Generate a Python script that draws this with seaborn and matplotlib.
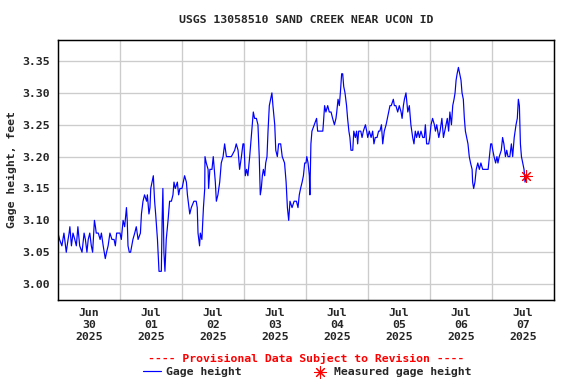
import numpy as np
import pandas as pd
import matplotlib
matplotlib.use("Agg")
import matplotlib.pyplot as plt
import seaborn as sns

# ---- data (hours after 2025-06-30 00:00, gage height in feet) ----
hours = [
    0.0, 0.6, 1.5, 2.3, 3.2, 3.9, 4.3, 4.6, 5.2, 5.8, 6.5, 7.1, 7.7, 8.4, 9.3, 10.1, 10.6, 11.2, 11.7,
    12.3, 12.9, 13.4, 14.1, 14.5, 14.8, 15.6, 16.3, 16.8, 17.5, 18.3, 18.8, 19.4, 20.1, 20.9, 21.7,
    22.2, 22.7, 23.5,
    24.0, 24.5, 25.2, 25.8, 26.5, 26.8, 27.1, 27.6, 28.1, 29.0, 29.7, 30.3, 31.0, 31.9, 32.3, 32.9,
    33.5, 34.3, 34.6, 35.2, 35.6, 35.9, 36.4, 36.9, 37.4, 37.8, 38.5, 39.1, 40.0, 40.3, 40.6, 41.0,
    41.4, 41.9, 42.6, 43.2, 43.9, 44.5, 44.9, 45.4, 46.2, 46.7, 47.2, 48.0,
    48.5, 49.0, 49.7, 50.1, 51.0, 51.6, 52.6, 53.5, 53.9, 54.2, 54.8, 55.1, 55.7, 56.3, 56.8, 56.9,
    57.4, 58.1, 58.3, 58.8, 59.6, 60.1, 60.9, 61.3, 61.9, 62.6, 63.2, 63.9, 64.5, 65.2, 66.5, 67.1,
    68.4, 69.0, 69.7, 70.3, 71.0, 71.6,
    72.0, 72.5, 73.0, 73.5, 74.2, 74.8, 75.2, 75.6, 76.1, 76.8, 77.4, 77.9, 78.3, 78.7, 79.1, 79.5,
    80.0, 80.4, 80.9, 81.3, 81.8, 82.3, 82.8, 83.2, 83.9, 84.3, 84.9, 85.4, 86.2, 86.8, 87.7, 88.3,
    88.8, 89.3, 89.8, 90.6, 91.4, 92.3, 92.9, 93.4, 93.9, 94.5, 95.0, 95.5,
    96.0, 96.3, 96.8, 97.3, 97.5, 97.9, 98.3, 99.2, 100.1, 100.5, 101.4, 102.5, 102.7, 103.2, 103.7,
    104.4, 105.0, 105.7, 106.3, 107.0, 107.6, 107.9, 108.4, 108.9, 109.3, 109.8, 110.2, 110.6, 111.1,
    111.7, 112.1, 112.6, 113.0, 113.4, 114.1, 114.5, 115.1, 115.6, 116.0, 116.4, 117.2, 117.7, 118.2,
    119.0, 119.5,
    119.9, 120.5, 121.2, 121.8, 122.3, 122.8, 123.5, 124.1, 124.6, 125.2, 125.7, 126.3, 127.0, 127.5,
    128.0, 128.5, 129.0, 129.8, 130.2, 130.8, 131.5, 132.1, 132.8, 133.2, 133.7, 134.1, 134.7, 135.4,
    136.0, 136.6, 137.3, 137.8, 138.3, 138.8, 139.4, 139.9, 140.5, 141.2, 141.8, 142.2, 142.7, 143.5,
    143.9, 144.4, 145.0, 145.7, 146.1, 146.6, 147.4, 147.9, 148.6, 149.2, 149.7, 150.2, 150.7, 151.2,
    151.7, 152.3, 152.8, 153.3, 153.7, 154.1, 154.5, 155.0, 155.5, 156.0, 156.4, 156.9, 157.3, 157.7,
    158.2, 158.7, 159.2, 159.7, 160.3, 160.5, 160.9, 161.4, 161.9, 162.5, 163.1, 163.7, 164.4, 165.4,
    166.5, 167.0, 167.5,
    167.9, 168.3, 168.8, 169.4, 169.9, 170.3, 170.8, 171.6, 172.1, 172.6, 173.2, 173.7, 174.2, 174.9,
    175.5, 176.0, 176.6, 177.3, 177.8, 178.2, 178.6, 179.0, 179.4, 179.9, 180.4, 180.8, 181.2, 181.6,
]
gage_height = [
    3.08, 3.07, 3.06, 3.08, 3.05, 3.07, 3.08, 3.09, 3.06, 3.08, 3.07, 3.06, 3.09, 3.06, 3.05, 3.08, 3.07, 3.05, 3.07,
    3.08, 3.06, 3.05, 3.10, 3.09, 3.08, 3.08, 3.07, 3.08, 3.06, 3.04, 3.05, 3.06, 3.08, 3.07, 3.07,
    3.06, 3.08, 3.08,
    3.08, 3.07, 3.10, 3.09, 3.12, 3.10, 3.06, 3.05, 3.05, 3.07, 3.08, 3.09, 3.07, 3.08, 3.11, 3.13,
    3.14, 3.13, 3.14, 3.11, 3.12, 3.15, 3.16, 3.17, 3.13, 3.11, 3.07, 3.02, 3.02, 3.10, 3.15, 3.05,
    3.02, 3.07, 3.10, 3.13, 3.13, 3.14, 3.16, 3.15, 3.16, 3.14, 3.15, 3.15,
    3.16, 3.17, 3.16, 3.14, 3.11, 3.12, 3.13, 3.13, 3.12, 3.08, 3.06, 3.08, 3.07, 3.12, 3.15, 3.20,
    3.19, 3.18, 3.15, 3.18, 3.18, 3.20, 3.16, 3.13, 3.14, 3.16, 3.19, 3.20, 3.22, 3.20, 3.20, 3.20,
    3.21, 3.22, 3.21, 3.18, 3.20, 3.22,
    3.22, 3.17, 3.18, 3.17, 3.20, 3.23, 3.25, 3.27, 3.26, 3.26, 3.25, 3.20, 3.14, 3.15, 3.17, 3.18,
    3.17, 3.19, 3.20, 3.24, 3.28, 3.29, 3.30, 3.28, 3.25, 3.21, 3.20, 3.22, 3.22, 3.20, 3.19, 3.16,
    3.12, 3.10, 3.13, 3.12, 3.13, 3.13, 3.12, 3.14, 3.15, 3.16, 3.17, 3.19,
    3.19, 3.20, 3.19, 3.17, 3.14, 3.22, 3.24, 3.25, 3.26, 3.24, 3.24, 3.24, 3.25, 3.28, 3.27,
    3.28, 3.27, 3.27, 3.26, 3.25, 3.26, 3.27, 3.29, 3.28, 3.30, 3.33, 3.33, 3.31, 3.30,
    3.28, 3.26, 3.24, 3.23, 3.21, 3.21, 3.24, 3.23, 3.24, 3.22, 3.24, 3.24, 3.23, 3.24,
    3.25, 3.24,
    3.23, 3.24, 3.23, 3.24, 3.22, 3.23, 3.23, 3.24, 3.24, 3.25, 3.22, 3.24, 3.25, 3.26,
    3.27, 3.28, 3.28, 3.29, 3.28, 3.28, 3.27, 3.28, 3.27, 3.26, 3.28, 3.29, 3.30, 3.27,
    3.28, 3.25, 3.23, 3.22, 3.24, 3.23, 3.24, 3.23, 3.24, 3.23, 3.23, 3.25, 3.22, 3.22,
    3.23, 3.25, 3.26, 3.25, 3.24, 3.25, 3.23, 3.24, 3.26, 3.23, 3.24, 3.25, 3.26, 3.24,
    3.27, 3.25, 3.28, 3.29, 3.30, 3.32, 3.33, 3.34, 3.33, 3.32, 3.30, 3.29, 3.26, 3.24,
    3.23, 3.22, 3.20, 3.19, 3.18, 3.16, 3.15, 3.16, 3.18, 3.19, 3.18, 3.19, 3.18, 3.18,
    3.18, 3.20, 3.22,
    3.22, 3.21, 3.20, 3.19, 3.20, 3.19, 3.20, 3.21, 3.23, 3.22, 3.20, 3.21, 3.20, 3.20,
    3.22, 3.20, 3.23, 3.25, 3.26, 3.29, 3.28, 3.22, 3.20, 3.19, 3.18, 3.16, 3.17, 3.17,
]
measured_hours = [181.0]
measured_height = [3.17]

title = "USGS 13058510 SAND CREEK NEAR UCON ID"
ylabel = "Gage height, feet"
day_labels = ["Jun\n30\n2025", "Jul\n01\n2025", "Jul\n02\n2025", "Jul\n03\n2025",
              "Jul\n04\n2025", "Jul\n05\n2025", "Jul\n06\n2025", "Jul\n07\n2025"]
y_ticks = [3.00, 3.05, 3.10, 3.15, 3.20, 3.25, 3.30, 3.35]

start = pd.Timestamp("2025-06-30 00:00")
df = pd.DataFrame({"time": start + pd.to_timedelta(hours, unit="h"), "height": gage_height})
meas = pd.DataFrame({"time": start + pd.to_timedelta(measured_hours, unit="h"),
                     "height": measured_height})

sns.set_style("white")
plt.rcParams["font.family"] = ["DejaVu Sans Mono"]
plt.rcParams["font.weight"] = "bold"
FS = 8.6

fig = plt.figure(figsize=(6, 4), dpi=96)
W, H = 576, 384
L, R, T, B = 58, 554, 40, 300
ax = fig.add_axes([L / W, 1 - B / H, (R - L) / W, (B - T) / H])

sns.lineplot(data=df, x="time", y="height", ax=ax, color="#0000ff", linewidth=0.9,
             label="Gage height", estimator=None, sort=False)
sns.scatterplot(data=meas, x="time", y="height", ax=ax, color="#ff0000", marker=(8, 2, 0),
                s=75, linewidth=0.8, edgecolor="#ff0000", label="Measured gage height", zorder=5)

ax.set_xlim(start, start + pd.Timedelta(days=8))
ax.set_ylim(2.975, 3.383)

days = [start + pd.Timedelta(days=i) for i in range(9)]
noons = [start + pd.Timedelta(hours=12 + 24 * i) for i in range(8)]
ax.set_xticks(noons)
ax.set_xticklabels(day_labels, fontsize=FS, fontweight="bold", linespacing=1.25)
ax.set_xticks(days[1:-1], minor=True)
ax.set_yticks(y_ticks)
ax.set_yticklabels([f"{v:.2f}" for v in y_ticks], fontsize=FS, fontweight="bold")
ax.tick_params(axis="both", which="both", length=0, pad=6)
ax.grid(False)
ax.grid(True, axis="x", which="minor", color="#cccccc", linewidth=1.0)
ax.grid(True, axis="y", which="major", color="#cccccc", linewidth=1.0)
ax.set_axisbelow(True)
for sp in ax.spines.values():
    sp.set_visible(True)
    sp.set_color("black")
    sp.set_linewidth(1.1)
ax.set_xlabel("")
ax.set_ylabel("")

fig.text((L + R) / 2 / W, 1 - 20 / H, title, ha="center", va="center", fontsize=FS, fontweight="bold")
fig.text(12 / W, 1 - 170 / H, ylabel, rotation=90, ha="center", va="center", fontsize=FS,
         fontweight="bold")
fig.text(306 / W, 1 - 358 / H, "---- Provisional Data Subject to Revision ----", ha="center",
         va="center", fontsize=FS, fontweight="bold", color="#ff0000")

handles, labels = ax.get_legend_handles_labels()
ax.legend(handles, labels, ncol=2, frameon=False, loc="center",
          bbox_to_anchor=(307 / W, 1 - 372 / H), bbox_transform=fig.transFigure,
          prop={"family": "DejaVu Sans Mono", "weight": "bold", "size": FS},
          handlelength=1.6, handletextpad=0.45, columnspacing=6.0, borderpad=0, borderaxespad=0)

fig.savefig("out.png", dpi=96)
